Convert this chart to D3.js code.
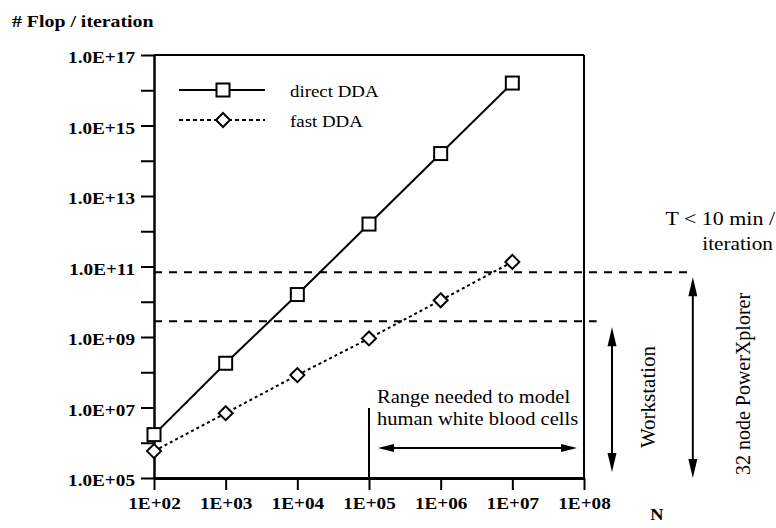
<!DOCTYPE html>
<html>
<head>
<meta charset="utf-8">
<script src="https://cdn.jsdelivr.net/npm/d3@7"></script>
<style>
body { margin: 0; background: #fff; }
svg text { font-family: "Liberation Serif", "Times New Roman", serif; fill: #000; }
</style>
</head>
<body>
<div id="okvir"></div>
<script>
// podaci
const nValues = [1e2, 1e3, 1e4, 1e5, 1e6, 1e7];
const directDDA = [1.7e6, 1.8e8, 1.6e10, 1.6e12, 1.6e14, 1.6e16];
const fastDDA = [5.8e5, 6.9e6, 8.3e7, 9.1e8, 1.1e10, 1.35e11];
const seriesNames = ["direct DDA", "fast DDA"];

const yTickValues = [1e5, 1e6, 1e7, 1e8, 1e9, 1e10, 1e11, 1e12, 1e13, 1e14, 1e15, 1e16, 1e17];
const yTickLabels = ["1.0E+05", "", "1.0E+07", "", "1.0E+09", "", "1.0E+11", "", "1.0E+13", "", "1.0E+15", "", "1.0E+17"];
const xTickValues = [1e2, 1e3, 1e4, 1e5, 1e6, 1e7, 1e8];
const xTickLabels = ["1E+02", "1E+03", "1E+04", "1E+05", "1E+06", "1E+07", "1E+08"];

// granice racunala (Flop po iteraciji za T < 10 min)
const limitNames = ["32 node PowerXplorer", "Workstation"];
const limitFlop = [6.9e10, 2.8e9];
const limitLineEndN = [3.3e9, 1.5e8];
const limitArrowN = [3.3e9, 2.46e8];

// raspon potreban za bijele krvne stanice
const rangeN = [1e5, 1e8];

// dimenzije
const sirina = 776, visina = 528;
const xSkala = d3.scaleLog().domain([1e2, 1e8]).range([154, 584]);
const ySkala = d3.scaleLog().domain([1e5, 1e17]).range([478, 55]);

const okvir = d3.select("#okvir").append("svg")
    .attr("width", sirina)
    .attr("height", visina);
okvir.append("rect").attr("width", sirina).attr("height", visina).attr("fill", "#fff");

function tekst(parent, x, y, str, o) {
    return parent.append("text")
        .attr("transform", `translate(${x},${y}) scale(${o.sx || 1},1)`)
        .attr("text-anchor", o.anchor || "start")
        .style("font-size", o.size + "px")
        .style("font-weight", o.weight || "normal")
        .text(str);
}

// okvir grafa
okvir.append("line")
    .attr("x1", xSkala(1e2)).attr("x2", xSkala(1e8))
    .attr("y1", ySkala(1e17)).attr("y2", ySkala(1e17))
    .attr("stroke", "#000").attr("stroke-width", 2);
okvir.append("line")
    .attr("x1", xSkala(1e8)).attr("x2", xSkala(1e8))
    .attr("y1", ySkala(1e17)).attr("y2", ySkala(1e5))
    .attr("stroke", "#000").attr("stroke-width", 2);

// osi
const yOs = okvir.append("g")
    .attr("transform", `translate(${xSkala(1e2)},0)`)
    .call(d3.axisLeft(ySkala).tickValues(yTickValues).tickSize(13).tickSizeOuter(0)
        .tickFormat((d, i) => yTickLabels[i]));
yOs.select(".domain").attr("stroke-width", 2.5);
yOs.selectAll(".tick line").attr("stroke-width", 2);
yOs.selectAll(".tick text")
    .attr("x", null).attr("dy", null)
    .attr("transform", "translate(-19,7.5) scale(1.2,1)")
    .style("font-size", "16px").style("font-weight", "bold")
    .style("font-family", "'Liberation Serif', serif");

const xOs = okvir.append("g")
    .attr("transform", `translate(0,${ySkala(1e5)})`)
    .call(d3.axisBottom(xSkala).tickValues(xTickValues).tickSize(12).tickSizeOuter(0)
        .tickFormat((d, i) => xTickLabels[i]));
xOs.select(".domain").attr("stroke-width", 3);
xOs.selectAll(".tick line").attr("stroke-width", 2);
xOs.selectAll(".tick text")
    .attr("y", null).attr("dy", null)
    .attr("transform", "translate(0,31) scale(1.2,1)")
    .style("font-size", "16px").style("font-weight", "bold")
    .style("font-family", "'Liberation Serif', serif");

// naslovi osi
tekst(okvir, 12, 27, "# Flop / iteration", { size: 16, sx: 1.24, weight: "bold" });
tekst(okvir, 657, 520, "N", { size: 16, sx: 1.15, weight: "bold", anchor: "middle" });

// granice (isprekidane linije)
limitFlop.forEach((v, i) => {
    okvir.append("line")
        .attr("x1", xSkala(1e2)).attr("x2", xSkala(limitLineEndN[i]))
        .attr("y1", ySkala(v)).attr("y2", ySkala(v))
        .attr("stroke", "#000").attr("stroke-width", 2)
        .attr("stroke-dasharray", "8,7");
});

// strelice
function strelica(g, x1, y1, x2, y2, len, half) {
    const ang = Math.atan2(y2 - y1, x2 - x1);
    const c = Math.cos(ang), s = Math.sin(ang);
    g.append("line")
        .attr("x1", x1 + c * len * 0.8).attr("y1", y1 + s * len * 0.8)
        .attr("x2", x2 - c * len * 0.8).attr("y2", y2 - s * len * 0.8)
        .attr("stroke", "#000").attr("stroke-width", 2);
    [[x1, y1, -1], [x2, y2, 1]].forEach(([px, py, dir]) => {
        const bx = px - dir * c * len, by = py - dir * s * len;
        g.append("path")
            .attr("d", `M${px},${py}L${bx - s * half},${by + c * half}L${bx + s * half},${by - c * half}Z`)
            .attr("fill", "#000");
    });
}

limitFlop.forEach((v, i) => {
    const x = xSkala(limitArrowN[i]);
    strelica(okvir, x, ySkala(v) + (i === 0 ? 5 : 6), x, ySkala(1e5) - (i === 0 ? 0 : 6), 19, 4.5);
});

const labelPos = [[750, 384, 20], [655, 397, 21]];
limitNames.forEach((name, i) => {
    okvir.append("text")
        .attr("transform", `translate(${labelPos[i][0]},${labelPos[i][1]}) rotate(-90)`)
        .attr("text-anchor", "middle")
        .style("font-size", labelPos[i][2] + "px")
        .text(name);
});

tekst(okvir, 775, 225, "T < 10 min /", { size: 18, sx: 1.22, anchor: "end" });
tekst(okvir, 773, 250, "iteration", { size: 18, sx: 1.18, anchor: "end" });

// raspon
okvir.append("line")
    .attr("x1", xSkala(rangeN[0])).attr("x2", xSkala(rangeN[0]))
    .attr("y1", 408).attr("y2", ySkala(1e5))
    .attr("stroke", "#000").attr("stroke-width", 2);
tekst(okvir, xSkala(rangeN[0]) + 8, 403, "Range needed to model", { size: 18, sx: 1.14 });
tekst(okvir, xSkala(rangeN[0]) + 8, 425, "human white blood cells", { size: 18, sx: 1.14 });
strelica(okvir, xSkala(rangeN[0]) + 9, 448, xSkala(rangeN[1]) - 7, 448, 16, 4);

// linije podataka
const podatci = nValues.map((n, i) => ({ n, direct: directDDA[i], fast: fastDDA[i] }));

okvir.append("path")
    .datum(podatci)
    .attr("d", d3.line().x(d => xSkala(d.n)).y(d => ySkala(d.direct)))
    .attr("fill", "none").attr("stroke", "#000").attr("stroke-width", 2);
okvir.append("path")
    .datum(podatci)
    .attr("d", d3.line().x(d => xSkala(d.n)).y(d => ySkala(d.fast)))
    .attr("fill", "none").attr("stroke", "#000").attr("stroke-width", 2)
    .attr("stroke-dasharray", "3,3");

const kvadrat = 13, romb = 7;
function crtajKvadrat(g, x, y) {
    g.append("rect")
        .attr("x", x - kvadrat / 2).attr("y", y - kvadrat / 2)
        .attr("width", kvadrat).attr("height", kvadrat)
        .attr("fill", "#fff").attr("stroke", "#000").attr("stroke-width", 2);
}
function crtajRomb(g, x, y) {
    g.append("path")
        .attr("d", `M${x},${y - romb}L${x + romb},${y}L${x},${y + romb}L${x - romb},${y}Z`)
        .attr("fill", "#fff").attr("stroke", "#000").attr("stroke-width", 2);
}
podatci.forEach(d => {
    crtajKvadrat(okvir, xSkala(d.n), ySkala(d.direct));
    crtajRomb(okvir, xSkala(d.n), ySkala(d.fast));
});

// legenda
const leg = [{ y: 90, dash: null, mark: crtajKvadrat }, { y: 120, dash: "4,3", mark: crtajRomb }];
leg.forEach((l, i) => {
    okvir.append("line")
        .attr("x1", 179).attr("x2", 265).attr("y1", l.y).attr("y2", l.y)
        .attr("stroke", "#000").attr("stroke-width", 2)
        .attr("stroke-dasharray", l.dash);
    l.mark(okvir, 223, l.y);
    tekst(okvir, 290, l.y + 7, seriesNames[i], { size: 16, sx: 1.18 });
});
</script>
</body>
</html>
